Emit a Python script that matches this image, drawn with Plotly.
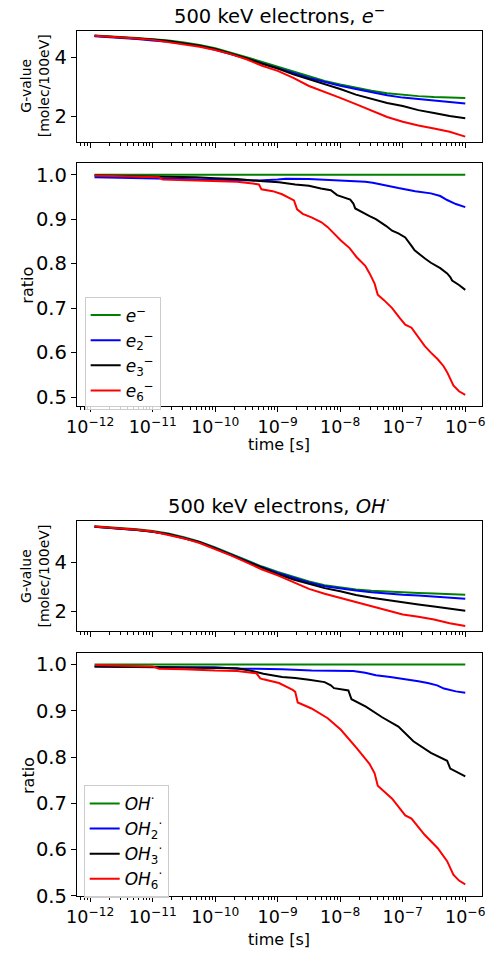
import numpy as np
import plotly.graph_objects as go

W, H = 487, 960

# ---------------- data (time given as log10 of seconds) ----------------
g_logt = [-11.93, -11.75, -11.5, -11.25, -11.0, -10.75, -10.5, -10.25, -10.0, -9.75,
          -9.5, -9.25, -9.0, -8.75, -8.5, -8.25, -8.0, -7.75, -7.5, -7.25,
          -7.0, -6.75, -6.5, -6.25, -6.0]

# G-values, e- panel
g_e1 = [4.73, 4.71, 4.68, 4.64, 4.60, 4.56, 4.49, 4.41, 4.30, 4.16, 4.00, 3.84, 3.68, 3.50,
        3.34, 3.20, 3.08, 2.97, 2.87, 2.79, 2.73, 2.69, 2.66, 2.64, 2.63]
g_e2 = [4.70, 4.68, 4.65, 4.61, 4.56, 4.52, 4.45, 4.37, 4.25, 4.11, 3.95, 3.79, 3.64, 3.47,
        3.30, 3.16, 3.04, 2.93, 2.82, 2.72, 2.64, 2.59, 2.54, 2.48, 2.44]
g_e3 = [4.72, 4.70, 4.67, 4.63, 4.59, 4.54, 4.46, 4.38, 4.27, 4.12, 3.96, 3.78, 3.62, 3.42,
        3.26, 3.09, 2.93, 2.74, 2.60, 2.46, 2.36, 2.22, 2.12, 2.02, 1.95]
g_e6 = [4.72, 4.70, 4.67, 4.63, 4.58, 4.51, 4.44, 4.35, 4.24, 4.10, 3.93, 3.71, 3.54, 3.30,
        3.03, 2.84, 2.63, 2.42, 2.21, 1.99, 1.83, 1.70, 1.60, 1.49, 1.33]

# G-values, OH panel
g_oh1 = [5.49, 5.46, 5.41, 5.36, 5.29, 5.19, 5.04, 4.86, 4.62, 4.36, 4.08, 3.84, 3.62, 3.41,
         3.23, 3.08, 2.98, 2.90, 2.85, 2.81, 2.78, 2.76, 2.74, 2.71, 2.69]
g_oh2 = [5.47, 5.44, 5.38, 5.33, 5.26, 5.16, 5.01, 4.83, 4.59, 4.33, 4.04, 3.81, 3.58, 3.38,
         3.19, 3.04, 2.94, 2.86, 2.79, 2.73, 2.69, 2.66, 2.62, 2.56, 2.53]
g_oh3 = [5.47, 5.44, 5.38, 5.33, 5.26, 5.16, 5.00, 4.83, 4.58, 4.32, 4.03, 3.77, 3.53, 3.31,
         3.12, 2.96, 2.83, 2.68, 2.57, 2.47, 2.39, 2.29, 2.21, 2.11, 2.04]
g_oh6 = [5.48, 5.45, 5.40, 5.34, 5.27, 5.14, 4.99, 4.80, 4.56, 4.30, 4.01, 3.72, 3.48, 3.21,
         2.93, 2.73, 2.56, 2.38, 2.21, 2.02, 1.88, 1.79, 1.68, 1.53, 1.41]

# ratios, e- panel
r_e1_logt = [-11.93, -6.0]
r_e1 = [1.0, 1.0]
r_e2_logt = [-11.93, -11.5, -11.0, -10.5, -10.0, -9.65, -9.3, -9.0, -8.87, -8.5, -8.1,
             -7.84, -7.6, -7.48, -7.3, -7.07, -6.8, -6.55, -6.4, -6.29, -6.15, -6.0]
r_e2 = [0.994, 0.993, 0.992, 0.991, 0.989, 0.988, 0.987, 0.989, 0.991, 0.990, 0.988,
        0.986, 0.984, 0.982, 0.976, 0.970, 0.963, 0.958, 0.952, 0.943, 0.934, 0.927]
r_e3_logt = [-11.93, -11.5, -11.0, -10.68, -10.3, -10.0, -9.65, -9.23, -8.98, -8.72, -8.5,
             -8.31, -8.15, -8.05, -7.84, -7.79, -7.76, -7.53, -7.43, -7.27, -7.17, -7.07,
             -6.96, -6.86, -6.81, -6.65, -6.55, -6.40, -6.29, -6.24, -6.21, -6.1, -6.0]
r_e3 = [0.998, 0.997, 0.997, 0.996, 0.994, 0.992, 0.990, 0.985, 0.983, 0.978, 0.975,
        0.969, 0.965, 0.954, 0.944, 0.935, 0.924, 0.907, 0.900, 0.885, 0.874, 0.868,
        0.859, 0.840, 0.830, 0.812, 0.802, 0.790, 0.778, 0.770, 0.762, 0.752, 0.741]
r_e6_logt = [-11.93, -11.5, -11.04, -10.9, -10.84, -10.5, -10.27, -10.0, -9.65, -9.4, -9.30,
             -9.26, -9.08, -8.93, -8.80, -8.74, -8.69, -8.6, -8.46, -8.30, -8.20, -8.10,
             -7.99, -7.85, -7.74, -7.6, -7.53, -7.45, -7.40, -7.30, -7.17, -7.05, -6.96,
             -6.86, -6.75, -6.65, -6.55, -6.44, -6.35, -6.29, -6.19, -6.10, -6.0]
r_e6 = [0.998, 0.997, 0.996, 0.994, 0.989, 0.988, 0.987, 0.986, 0.984, 0.980, 0.978,
        0.967, 0.963, 0.956, 0.946, 0.942, 0.922, 0.912, 0.904, 0.893, 0.882, 0.868,
        0.852, 0.835, 0.815, 0.795, 0.778, 0.755, 0.730, 0.718, 0.700, 0.678, 0.663,
        0.656, 0.635, 0.615, 0.600, 0.585, 0.570, 0.556, 0.526, 0.513, 0.505]

# ratios, OH panel
r_oh1_logt = [-11.93, -6.0]
r_oh1 = [1.0, 1.0]
r_oh2_logt = [-11.93, -11.5, -11.0, -10.5, -10.0, -9.65, -9.34, -8.93, -8.46, -8.0, -7.79,
              -7.6, -7.43, -7.2, -6.91, -6.75, -6.60, -6.45, -6.34, -6.15, -6.0]
r_oh2 = [0.996, 0.995, 0.994, 0.994, 0.994, 0.991, 0.991, 0.990, 0.987, 0.986, 0.986,
         0.982, 0.977, 0.973, 0.968, 0.964, 0.960, 0.955, 0.948, 0.942, 0.939]
r_oh3_logt = [-11.93, -11.5, -10.79, -10.5, -10.0, -9.65, -9.34, -9.23, -8.93, -8.72, -8.5,
              -8.25, -8.15, -8.10, -7.87, -7.82, -7.59, -7.33, -7.07, -6.95, -6.83, -6.55,
              -6.40, -6.29, -6.24, -6.12, -6.0]
r_oh3 = [0.996, 0.995, 0.994, 0.993, 0.992, 0.992, 0.984, 0.980, 0.973, 0.971, 0.967,
         0.962, 0.955, 0.949, 0.944, 0.925, 0.909, 0.886, 0.866, 0.850, 0.834, 0.809,
         0.800, 0.792, 0.775, 0.766, 0.758]
r_oh6_logt = [-11.92, -11.5, -11.0, -10.9, -10.5, -10.0, -9.65, -9.34, -9.28, -9.23, -8.98,
              -8.76, -8.72, -8.68, -8.46, -8.20, -7.99, -7.74, -7.53, -7.45, -7.40, -7.17,
              -6.96, -6.86, -6.65, -6.44, -6.29, -6.19, -6.10, -6.0]
r_oh6 = [0.999, 0.998, 0.996, 0.991, 0.990, 0.987, 0.986, 0.981, 0.970, 0.968, 0.960,
         0.945, 0.941, 0.918, 0.905, 0.884, 0.859, 0.820, 0.785, 0.765, 0.738, 0.710,
         0.674, 0.667, 0.632, 0.603, 0.575, 0.546, 0.533, 0.525]

e_labels = ["<i>e</i><sup>−</sup>", "<i>e</i><sub>2</sub><sup>−</sup>",
            "<i>e</i><sub>3</sub><sup>−</sup>", "<i>e</i><sub>6</sub><sup>−</sup>"]
oh_labels = ["<i>OH</i><sup>·</sup>", "<i>OH</i><sub>2</sub><sup>·</sup>",
             "<i>OH</i><sub>3</sub><sup>·</sup>", "<i>OH</i><sub>6</sub><sup>·</sup>"]
colors = ["#008000", "#0000ff", "#000000", "#ff0000"]

titles = ["500 keV electrons, <i>e</i><sup>−</sup>", "500 keV electrons, <i>OH</i><sup>·</sup>"]
decades = [-12, -11, -10, -9, -8, -7, -6]

FONT = "DejaVu Sans"
LW = 2.0

fig = go.Figure()


def t(logt):
    return 10 ** np.asarray(logt, dtype=float)


g_sets = [[g_e1, g_e2, g_e3, g_e6], [g_oh1, g_oh2, g_oh3, g_oh6]]
r_sets = [[(r_e1_logt, r_e1), (r_e2_logt, r_e2), (r_e3_logt, r_e3), (r_e6_logt, r_e6)],
          [(r_oh1_logt, r_oh1), (r_oh2_logt, r_oh2), (r_oh3_logt, r_oh3), (r_oh6_logt, r_oh6)]]
label_sets = [e_labels, oh_labels]

for k in range(2):
    gx = "x%d" % (2 * k + 1) if k else "x"
    gy = "y%d" % (2 * k + 1) if k else "y"
    rx = "x%d" % (2 * k + 2)
    ry = "y%d" % (2 * k + 2)
    for i in range(4):
        fig.add_trace(go.Scatter(x=t(g_logt), y=g_sets[k][i], mode="lines",
                                 line=dict(color=colors[i], width=LW),
                                 xaxis=gx, yaxis=gy, showlegend=False, hoverinfo="skip"))
    for i in range(4):
        lx, ly = r_sets[k][i]
        fig.add_trace(go.Scatter(x=t(lx), y=ly, mode="lines", name=label_sets[k][i],
                                 line=dict(color=colors[i], width=LW),
                                 xaxis=rx, yaxis=ry, showlegend=True,
                                 legend="legend" if k == 0 else "legend2",
                                 hoverinfo="skip"))

# ---------------- layout ----------------
def fx(px):
    return px / W


def fy(py):
    return 1 - py / H


x_left, x_right = 68, 486
px_per_dec = 64.5
log_lo = -12 + (x_left - 81.7) / px_per_dec
log_hi = -12 + (x_right - 81.7) / px_per_dec

minor_vals = [m * 10.0 ** d for d in range(-13, -5) for m in range(2, 10)]
major_vals = [10.0 ** d for d in decades]
major_text = ["10<sup>−%d</sup>" % (-d) for d in decades]

boxes = [(31, 143.3), (165, 410.7), (527.3, 638.3), (661, 906.7)]
yranges = [[1.16, 4.89], [0.48, 1.026], [1.21, 5.69], [0.499, 1.024]]
ytickvals = [[2, 4], [0.5, 0.6, 0.7, 0.8, 0.9, 1.0], [2, 4], [0.5, 0.6, 0.7, 0.8, 0.9, 1.0]]

layout = dict(width=W, height=H, margin=dict(l=0, r=0, t=0, b=0),
              paper_bgcolor="white", plot_bgcolor="white",
              font=dict(family=FONT, size=16, color="black"))

for j in range(4):
    xs = "xaxis" if j == 0 else "xaxis%d" % (j + 1)
    ys = "yaxis" if j == 0 else "yaxis%d" % (j + 1)
    ya = "y" if j == 0 else "y%d" % (j + 1)
    xa = "x" if j == 0 else "x%d" % (j + 1)
    top, bot = boxes[j]
    labeled = j in (1, 3)
    layout[xs] = dict(type="log", range=[log_lo, log_hi], domain=[fx(x_left), fx(x_right)],
                      anchor=ya, showgrid=False, zeroline=False,
                      showline=True, mirror=True, linecolor="black", linewidth=1.1,
                      ticks="outside", ticklen=5, tickwidth=1.1, tickcolor="black",
                      tickmode="array", tickvals=major_vals,
                      ticktext=major_text if labeled else [""] * len(major_vals),
                      showticklabels=labeled, ticklabeloverflow="allow",
                      tickfont=dict(size=17.5, family=FONT),
                      minor=dict(ticks="outside", ticklen=3, tickwidth=0.8, tickcolor="black",
                                 tickmode="array", tickvals=minor_vals, showgrid=False))
    layout[ys] = dict(range=yranges[j], domain=[fy(bot), fy(top)], anchor=xa,
                      showgrid=False, zeroline=False,
                      showline=True, mirror=True, linecolor="black", linewidth=1.1,
                      ticks="outside", ticklen=5, tickwidth=1.1, tickcolor="black",
                      tickmode="array", tickvals=ytickvals[j],
                      tickformat=".1f" if labeled else "d",
                      tickfont=dict(size=19.5, family=FONT))

leg_common = dict(xanchor="left", yanchor="top", bgcolor="rgba(255,255,255,0.8)",
                  bordercolor="#cccccc", borderwidth=1, font=dict(size=17, family=FONT),
                  itemwidth=30, tracegroupgap=0)
layout["legend"] = dict(x=fx(76), y=fy(300), **leg_common)
layout["legend2"] = dict(x=fx(75), y=fy(794), **leg_common)

ann = []
ann.append(dict(text=titles[0], x=fx(277), y=fy(15), xref="paper", yref="paper",
                showarrow=False, font=dict(size=19.5, family=FONT), xanchor="center", yanchor="middle"))
ann.append(dict(text=titles[1], x=fx(277), y=fy(511), xref="paper", yref="paper",
                showarrow=False, font=dict(size=19.5, family=FONT), xanchor="center", yanchor="middle"))
for cy in (87, 583):
    ann.append(dict(text="G-value<br>[molec/100eV]", x=fx(25), y=fy(cy), xref="paper", yref="paper",
                    showarrow=False, textangle=-90, font=dict(size=14, family=FONT),
                    xanchor="center", yanchor="middle"))
for cy in (288, 784):
    ann.append(dict(text="ratio", x=fx(17.5), y=fy(cy), xref="paper", yref="paper",
                    showarrow=False, textangle=-90, font=dict(size=16, family=FONT),
                    xanchor="center", yanchor="middle"))
for cy in (450, 950.5):
    ann.append(dict(text="time [s]", x=fx(277), y=fy(cy), xref="paper", yref="paper",
                    showarrow=False, font=dict(size=16, family=FONT),
                    xanchor="center", yanchor="middle"))
layout["annotations"] = ann

fig.update_layout(**layout)
fig.write_html("out.html")
